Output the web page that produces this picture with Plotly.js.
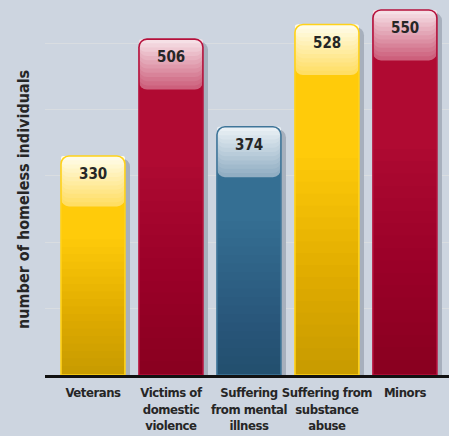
<!DOCTYPE html>
<html><head><meta charset="utf-8">
<script src="https://cdn.plot.ly/plotly-3.0.1.min.js"></script>
<style>html,body{margin:0;padding:0;background:#CDD5E0;}#chart{width:449px;height:436px;}
#chart text{font-stretch:condensed !important;}
#chart .xtick text{letter-spacing:-0.45px;}</style>
</head><body><div id="chart"></div>
<script>
var categories = ["Veterans", "Victims of<br>domestic<br>violence", "Suffering<br>from mental<br>illness", "Suffering from<br>substance<br>abuse", "Minors"];
var values = [330, 506, 374, 528, 550];
var yTitle = "number of homeless individuals";

var baseColors = ["#FFCB0A", "#B00A32", "#356F93", "#FFCB0A", "#B00A32"];
var lineColors = ["#FFD21A", "#B5103B", "#3F7599", "#FFD21A", "#B5103B"];
// gloss gradient end colours (bottom of cap -> top of cap), per colour family
var capBottom = {"#FFCB0A":[255,222,100], "#B00A32":[205,96,124], "#356F93":[145,174,195]};
var capTopC   = {"#FFCB0A":[255,252,232], "#B00A32":[246,224,230], "#356F93":[233,240,245]};

var FONT = "'DejaVu Sans Condensed', 'DejaVu Sans', sans-serif";
var W = 0.82;
var CAP = 76, NCAP = 12;

function mix(a,b,t){return 'rgb('+a.map(function(v,k){return Math.round(v+(b[k]-v)*t);}).join(',')+')';}

var traces = [];
// shadow
traces.push({type:'bar', x:categories, y:values.map(function(v){return v-4;}), width:W, offset:-W/2+0.065,
  marker:{color:'#A7B0BD', cornerradius:8, line:{width:0}}, hoverinfo:'skip'});
// main bars
traces.push({type:'bar', x:categories, y:values, width:W, offset:-W/2,
  marker:{color:baseColors, cornerradius:8, line:{width:0}}, hoverinfo:'skip'});
// bottom darkening (smooth steps)
for (var s=0; s<18; s++){
  var f = 0.62 - s*0.034;
  traces.push({type:'bar', x:categories, y:values.map(function(v){return v*f;}), width:W, offset:-W/2,
    marker:{color:'rgba(40,10,0,0.011)', cornerradius:0, line:{width:0}}, hoverinfo:'skip'});
}
// glossy cap layers
for (var k=0; k<NCAP; k++){
  var h = CAP*(1 - k/NCAP);
  var t = k/(NCAP-1);
  traces.push({type:'bar', x:categories, y:values.map(function(){return h;}), base:values.map(function(v){return v-h;}),
    width:W, offset:-W/2,
    marker:{color:baseColors.map(function(c){return mix(capBottom[c], capTopC[c], t);}), cornerradius:8, line:{width:0}},
    hoverinfo:'skip'});
}
// outline
traces.push({type:'bar', x:categories, y:values, width:W, offset:-W/2,
  marker:{color:'rgba(0,0,0,0)', cornerradius:8, line:{width:1.6, color:lineColors}}, hoverinfo:'skip'});

var annotations = categories.map(function(c,i){
  return {x:c, y:values[i], yanchor:'top', yshift:-7, text:'<b>'+values[i]+'</b>', showarrow:false,
    font:{family:FONT, size:15, color:'#262626'}};
});
annotations.push({xref:'paper', yref:'paper', x:-0.042, y:0.467, xanchor:'center', yanchor:'middle', xshift:-4,
  textangle:-90, showarrow:false,
  text:'<b>'+yTitle+'</b>', font:{family:FONT, size:16, color:'#262626'}});

var layout = {
  width:449, height:436,
  margin:{l:45, r:0, t:0, b:61, pad:0},
  paper_bgcolor:'#CDD5E0', plot_bgcolor:'#CDD5E0',
  barmode:'overlay', showlegend:false,
  xaxis:{type:'category', range:[-0.615, 4.565], showline:true, linecolor:'#111', linewidth:3,
    ticks:'', showgrid:false, zeroline:false, tickangle:0, ticklabelstandoff:3,
    tickfont:{family:FONT, size:13, color:'#262626', weight:'bold'}, fixedrange:true},
  yaxis:{range:[0, 565], showticklabels:false, ticks:'', showline:false, zeroline:false,
    showgrid:true, gridcolor:'#D9DDE1', gridwidth:1, dtick:100},
  annotations:annotations
};
Plotly.newPlot('chart', traces, layout, {displayModeBar:false, staticPlot:true});
</script></body></html>
